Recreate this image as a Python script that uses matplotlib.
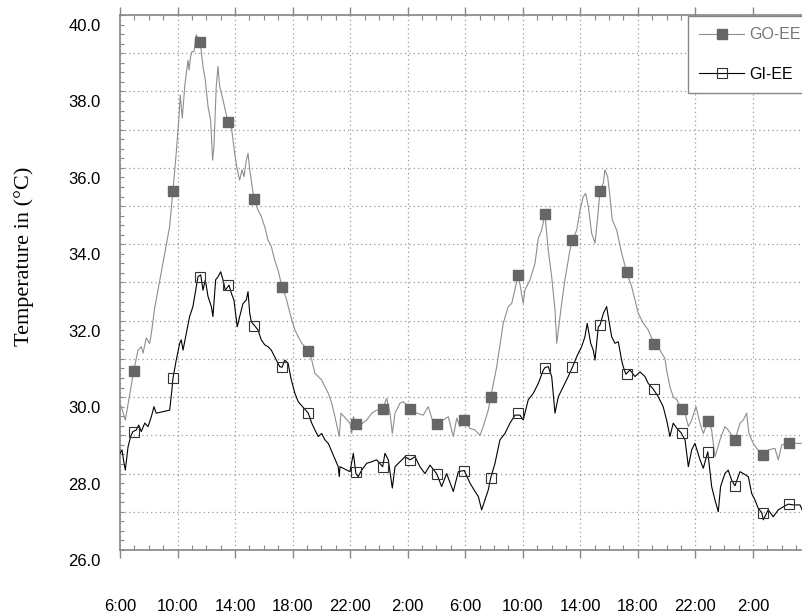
import matplotlib
matplotlib.use('Agg')
import matplotlib.pyplot as plt
from matplotlib.ticker import MultipleLocator, FuncFormatter
from matplotlib.transforms import ScaledTranslation

# hours since 6:00 on day one
go_t = [0.00, 0.09, 0.37, 0.95, 1.25, 1.48, 1.60, 1.83, 2.06, 2.18, 2.41, 3.45, 3.68, 3.91, 4.10,
        4.19, 4.33, 4.50, 4.61, 4.73, 4.80, 4.91, 5.00, 5.14, 5.30, 5.58, 5.77, 5.93, 6.12, 6.30,
        6.44, 6.53, 6.69, 6.81, 6.93, 7.16, 7.32, 7.51, 7.74, 7.97, 8.15, 8.32, 8.48, 8.62, 8.78,
        8.90, 9.02, 9.31, 9.59, 9.82, 10.06, 10.29, 10.52, 10.75, 10.98, 11.26, 11.54, 11.94, 12.16,
        12.39, 12.63, 12.86, 13.09, 13.33, 13.55, 13.78, 14.02, 14.25, 14.48, 14.72, 14.94, 15.24,
        15.36, 15.99, 16.11, 16.22, 16.40, 16.80, 17.15, 17.50, 17.84, 18.26, 18.54, 18.77, 18.93,
        19.12, 19.46, 19.69, 20.16, 20.62, 21.08, 21.43, 21.78, 22.01, 22.47, 22.82, 23.17, 23.41,
        23.63, 23.93, 24.33, 24.68, 25.02, 25.25, 25.60, 25.77, 26.19, 26.64, 26.99, 27.23, 27.69,
        28.03, 28.15, 28.50, 28.85, 29.08, 29.31, 29.54, 29.77, 30.01, 30.24, 30.36, 30.70, 30.93,
        31.28, 31.44, 31.75, 31.98, 32.21, 32.37, 32.55, 32.79, 33.02, 33.21, 33.37, 33.60, 33.71,
        33.90, 34.06, 34.22, 34.53, 34.87, 35.22, 35.57, 36.03, 36.38, 36.72, 37.14, 37.54, 37.88,
        38.00, 38.23, 38.46, 38.70, 39.05, 39.28, 39.51, 39.74, 40.04, 40.32, 40.55, 40.90, 41.13,
        41.36, 41.71, 42.05, 42.28, 42.75, 43.10, 43.33, 43.56, 43.72, 44.02, 44.26, 44.68, 45.06,
        45.53, 45.76, 46.00, 46.50, 46.92, 47.48]
go_v = [29.80, 29.75, 29.40, 30.68, 31.23, 31.32, 31.15, 31.55, 31.40, 31.67, 32.33, 34.46, 35.40,
        36.39, 37.34, 37.90, 37.30, 38.13, 38.48, 38.82, 38.56, 38.91, 39.04, 39.04, 39.48, 39.29,
        38.65, 38.30, 37.60, 37.25, 36.20, 36.55, 38.13, 38.65, 38.13, 37.78, 37.51, 37.19, 37.08,
        36.38, 35.95, 35.68, 35.95, 35.77, 36.20, 36.38, 35.95, 35.19, 34.90, 34.73, 34.46, 34.11,
        33.94, 33.59, 33.33, 32.89, 32.60, 32.02, 31.76, 31.58, 31.41, 31.32, 31.20, 30.97, 30.62,
        30.54, 30.45, 30.27, 30.10, 29.84, 29.49, 28.97, 29.58, 29.32, 29.05, 29.49, 29.30, 29.30,
        29.40, 29.58, 29.66, 29.69, 29.97, 29.58, 29.05, 29.58, 29.84, 29.88, 29.70, 29.58, 29.53,
        29.75, 29.32, 29.30, 29.40, 29.49, 28.97, 29.45, 29.23, 29.40, 29.18, 29.14, 29.00, 29.23,
        29.66, 30.00, 30.80, 31.93, 32.37, 32.45, 33.20, 32.45, 32.80, 33.07, 33.50, 34.16, 34.37,
        34.79, 33.85, 33.15, 32.28, 31.41, 32.45, 33.07, 33.85, 34.10, 34.37, 34.90, 35.25, 35.33,
        35.00, 34.29, 34.03, 34.72, 35.40, 35.60, 35.95, 35.77, 35.25, 34.64, 34.37, 33.77, 33.28,
        32.89, 32.19, 31.93, 31.76, 31.38, 31.23, 31.01, 30.71, 30.27, 30.01, 29.93, 29.69, 29.58,
        29.23, 29.40, 29.75, 29.32, 29.05, 29.38, 29.14, 28.44, 28.88, 29.23, 29.14, 28.88, 29.32,
        29.40, 29.58, 29.05, 28.79, 28.66, 28.49, 28.62, 28.66, 28.36, 28.75, 28.79, 28.79, 28.79]

gi_t = [0.00, 0.14, 0.28, 0.37, 0.56, 0.74, 0.90, 1.13, 1.30, 1.48, 1.72, 1.95, 2.18, 2.36, 2.52,
        3.45, 3.61, 3.68, 3.91, 4.15, 4.26, 4.38, 4.61, 4.84, 5.07, 5.23, 5.42, 5.61, 5.77, 5.93,
        6.12, 6.35, 6.46, 6.65, 6.81, 7.00, 7.16, 7.32, 7.58, 7.74, 7.92, 8.15, 8.32, 8.55, 8.78,
        8.90, 9.02, 9.13, 9.36, 9.59, 9.82, 10.06, 10.29, 10.52, 10.87, 11.10, 11.26, 11.45, 11.68,
        11.91, 12.16, 12.39, 13.09, 13.33, 13.55, 13.78, 14.02, 14.25, 14.48, 15.17, 15.24, 15.29,
        15.99, 16.22, 16.40, 16.56, 16.80, 17.15, 17.50, 17.84, 18.26, 18.42, 18.65, 18.93, 19.12,
        19.46, 19.81, 20.16, 20.51, 20.85, 21.20, 21.55, 22.01, 22.36, 22.71, 23.17, 23.52, 23.93,
        24.33, 24.68, 24.91, 25.14, 25.37, 25.60, 25.77, 26.07, 26.41, 26.76, 27.11, 27.46, 27.80,
        28.03, 28.38, 28.73, 29.08, 29.43, 29.54, 29.77, 30.01, 30.24, 30.47, 30.81, 31.16, 31.47,
        31.75, 32.09, 32.32, 32.48, 32.72, 32.90, 33.02, 33.25, 33.37, 33.60, 33.83, 33.94, 34.18,
        34.41, 34.64, 34.87, 34.98, 35.17, 35.45, 35.80, 36.15, 36.49, 36.72, 37.07, 37.42, 37.76,
        38.00, 38.23, 38.46, 38.70, 39.00, 39.28, 39.51, 39.74, 39.97, 40.32, 40.55, 40.86, 41.13,
        41.36, 41.59, 41.75, 42.05, 42.28, 42.52, 42.75, 43.10, 43.33, 43.68, 43.91, 44.14, 44.37,
        44.61, 44.72, 45.06, 45.41, 45.76, 46.11, 46.46, 46.81, 47.27, 47.48]
gi_v = [28.53, 28.62, 28.27, 28.09, 28.70, 28.97, 29.10, 29.14, 29.27, 29.10, 29.32, 29.23, 29.49,
        29.75, 29.58, 29.66, 30.19, 30.49, 30.97, 31.41, 31.50, 31.23, 31.67, 32.11, 32.37, 32.72,
        33.15, 33.20, 32.80, 33.07, 32.63, 32.37, 32.11, 33.07, 33.15, 33.28, 33.07, 32.80, 32.93,
        32.72, 32.54, 31.84, 32.11, 32.45, 32.54, 32.76, 32.19, 31.97, 31.87, 31.76, 31.50, 31.37,
        31.32, 31.23, 30.97, 30.80, 30.78, 30.97, 30.89, 30.45, 30.10, 29.88, 29.58, 29.32, 29.14,
        28.97, 29.05, 28.88, 28.79, 28.18, 27.92, 28.18, 28.05, 28.53, 28.00, 27.92, 28.09, 28.27,
        28.31, 28.36, 28.18, 28.53, 28.36, 27.62, 28.18, 28.31, 28.44, 28.36, 28.44, 28.18, 28.00,
        28.22, 28.00, 27.66, 28.00, 27.53, 28.05, 28.08, 27.75, 27.53, 27.40, 27.05, 27.31, 27.57,
        27.89, 28.27, 28.88, 29.05, 29.32, 29.53, 29.53, 29.40, 29.93, 30.10, 30.36, 30.71, 30.77,
        30.80, 30.54, 29.58, 30.01, 30.27, 30.54, 30.80, 31.06, 31.32, 31.58, 31.93, 31.41, 31.23,
        30.97, 31.84, 31.89, 32.19, 32.37, 32.11, 31.58, 31.41, 31.45, 30.97, 30.80, 30.60, 30.71,
        30.54, 30.66, 30.54, 30.36, 30.21, 30.01, 29.75, 29.40, 28.97, 29.32, 29.19, 29.07, 28.88,
        28.18, 28.62, 28.79, 28.36, 28.14, 28.57, 27.66, 27.31, 27.00, 27.66, 28.00, 28.09, 27.83,
        27.68, 28.05, 28.00, 27.92, 27.48, 27.31, 27.09, 26.98, 26.79, 27.05, 26.87, 27.05, 27.13,
        27.20, 27.18, 27.18, 27.00]

# marker positions (same sample times for both loggers)
mark_t = [0.95, 3.68, 5.58, 7.51, 9.31, 11.26, 13.09, 16.40, 18.26, 20.16, 22.01, 23.93,
          25.77, 27.69, 29.54, 31.44, 33.37, 35.22, 37.14, 39.05, 40.90, 42.75, 44.68, 46.50]
go_mark_v = [30.68, 35.40, 39.29, 37.19, 35.19, 32.89, 31.20, 29.30, 29.69, 29.70, 29.30, 29.40,
             30.00, 33.20, 34.79, 34.10, 35.40, 33.28, 31.38, 29.69, 29.38, 28.88, 28.49, 28.79]
gi_mark_v = [29.10, 30.51, 33.15, 32.93, 31.87, 30.78, 29.58, 28.05, 28.18, 28.36, 28.00, 28.08,
             27.89, 29.58, 30.77, 30.80, 31.89, 30.60, 30.21, 29.07, 28.57, 27.68, 26.98, 27.20]

x_labels = ['6:00', '10:00', '14:00', '18:00', '22:00', '2:00',
            '6:00', '10:00', '14:00', '18:00', '22:00', '2:00']

plt.rcParams['font.family'] = ['Liberation Sans', 'DejaVu Sans']

fig = plt.figure(figsize=(8.03, 6.14), dpi=100)
ax = fig.add_axes([120 / 803, 64 / 614, 683 / 803, 535 / 614])

go_col = '#8e8e8e'
# lines
ax.plot(go_t, go_v, color=go_col, lw=0.8, zorder=3)
ax.plot(gi_t, gi_v, color='black', lw=0.8, zorder=4)
# markers
ax.plot(mark_t, go_mark_v, ls='none', marker='s', ms=7, mfc='#666666', mec='#666666', zorder=5)
ax.plot(mark_t, gi_mark_v, ls='none', marker='s', ms=6.5, mfc='none', mec='#333333',
        mew=0.8, zorder=5)

ax.set_xlim(0, 47.48)
ax.set_ylim(26, 40)

# axis ticks
ax.xaxis.set_major_locator(MultipleLocator(4))
ax.xaxis.set_minor_locator(MultipleLocator(1))
ax.set_xticks([4 * i for i in range(len(x_labels))])
ax.set_xticklabels(x_labels)
ax.yaxis.set_major_locator(MultipleLocator(1))
ax.yaxis.set_minor_locator(MultipleLocator(0.25))
ax.yaxis.set_major_formatter(FuncFormatter(lambda v, p: '%.1f' % v if round(v) % 2 == 0 else ''))

ax.tick_params(axis='x', which='major', direction='out', length=6, width=1, color='#888888',
               top=True, pad=29, labelsize=12)
ax.tick_params(axis='x', which='minor', direction='in', length=3.5, width=0.8, color='#888888',
               top=True)
ax.tick_params(axis='y', which='major', direction='in', length=3, width=0.8, color='#888888',
               pad=14, labelsize=12)
ax.tick_params(axis='y', which='minor', direction='in', length=3, width=0.8, color='#888888')

# y labels sit a bit below their ticks in the original
for lab in ax.get_yticklabels():
    lab.set_transform(lab.get_transform() + ScaledTranslation(0, -10 / 100, fig.dpi_scale_trans))

ax.grid(True, which='major', color='#999999', lw=0.9, ls=(0, (1, 2.5)))
ax.set_axisbelow(True)

for s in ['left', 'bottom', 'top']:
    ax.spines[s].set_color('#888888')
    ax.spines[s].set_linewidth(1.2)
ax.spines['right'].set_visible(False)

fig.text(24 / 803, 1 - 256 / 614, 'Temperature in (°C)', rotation=90, ha='center', va='center',
         fontsize=16, family='Liberation Serif')

# legend
h1, = ax.plot([], [], color=go_col, lw=0.8, marker='s', ms=7, mfc='#666666', mec='#666666')
h2, = ax.plot([], [], color='black', lw=0.8, marker='s', ms=6.5, mfc='none', mec='#333333', mew=0.8)
leg = ax.legend([h1, h2], ['GO-EE', 'GI-EE'], loc='upper left',
                bbox_to_anchor=(688 / 803, 1 - 16 / 614), bbox_transform=fig.transFigure,
                borderaxespad=0, fontsize=11.5, handlelength=2.8, handletextpad=0.35,
                labelspacing=1.55, borderpad=0.7, fancybox=False, framealpha=1,
                edgecolor='#888888')
leg.get_frame().set_linewidth(1.0)
leg.get_texts()[0].set_color('#777777')

fig.savefig('out.png', dpi=100)
